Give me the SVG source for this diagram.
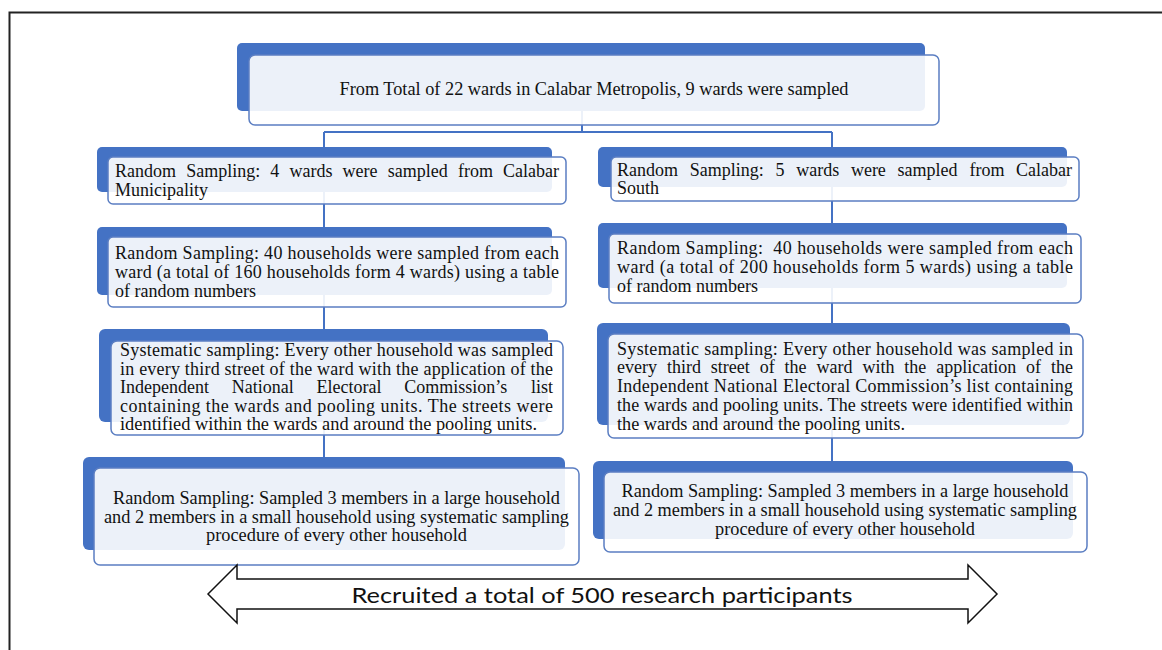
<svg xmlns="http://www.w3.org/2000/svg" width="1162" height="650" viewBox="0 0 1162 650">
<defs>
<style>
.bk{fill:#4472C4}
.fr{fill:#ffffff;fill-opacity:0.9;stroke:#5B7EC2;stroke-width:1.5}
.t{font-family:"Liberation Serif","Times New Roman",serif;font-size:18px;fill:#111}
.c{text-anchor:middle}
.cn{fill:none;stroke:#4472C4;stroke-width:2}
</style>
</defs>
<rect width="1162" height="650" fill="#ffffff"/>
<path d="M9.5,650 V12.5 H1162" fill="none" stroke="#222" stroke-width="2"/>

<g id="connectors">
<path class="cn" d="M582,100 V132 M324,132 H832 M324,132 V520 M832,132 V510"/>
</g>

<g id="n-top">
<rect class="bk" x="237" y="43" width="688" height="68" rx="5"/>
<rect class="fr" x="249" y="55" width="690" height="70" rx="6"/>
<text class="t c" x="594" y="95" textLength="509" lengthAdjust="spacingAndGlyphs">From Total of 22 wards in Calabar Metropolis, 9 wards were sampled</text>
</g>

<g id="n-l1">
<rect class="bk" x="97" y="147" width="455" height="45" rx="5"/>
<rect class="fr" x="108" y="157" width="458" height="47" rx="5"/>
<text class="t" y="177"><tspan x="115">Random</tspan> <tspan x="186.2">Sampling:</tspan> <tspan x="270.3">4</tspan> <tspan x="289.5">wards</tspan> <tspan x="342.6">were</tspan> <tspan x="387.8">sampled</tspan> <tspan x="458">from</tspan> <tspan x="503.1">Calabar</tspan></text>
<text class="t" x="115" y="196">Municipality</text>
</g>

<g id="n-l2">
<rect class="bk" x="97" y="227" width="455" height="68" rx="5"/>
<rect class="fr" x="108" y="237" width="458" height="70" rx="5"/>
<text class="t" x="115" y="259" textLength="444" lengthAdjust="spacing">Random Sampling: 40 households were sampled from each</text>
<text class="t" x="115" y="278" textLength="444" lengthAdjust="spacing">ward (a total of 160 households form 4 wards) using a table</text>
<text class="t" x="115" y="297">of random numbers</text>
</g>

<g id="n-l3">
<rect class="bk" x="99" y="329" width="449" height="93" rx="6"/>
<rect class="fr" x="111" y="341" width="452" height="94" rx="6"/>
<text class="t" x="120" y="356" textLength="433" lengthAdjust="spacing">Systematic sampling: Every other household was sampled</text>
<text class="t" x="120" y="374.5" textLength="433" lengthAdjust="spacing">in every third street of the ward with the application of the</text>
<text class="t" y="393"><tspan x="120">Independent</tspan> <tspan x="231.8">National</tspan> <tspan x="316.5">Electoral</tspan> <tspan x="404.3">Commission’s</tspan> <tspan x="531">list</tspan></text>
<text class="t" x="120" y="411.5" textLength="433" lengthAdjust="spacing">containing the wards and pooling units. The streets were</text>
<text class="t" x="120" y="430" textLength="417" lengthAdjust="spacingAndGlyphs">identified within the wards and around the pooling units.</text>
</g>

<g id="n-l4">
<rect class="bk" x="83" y="457" width="482" height="93" rx="6"/>
<rect class="fr" x="94" y="468" width="485" height="97" rx="6"/>
<text class="t c" x="336.5" y="504" textLength="447" lengthAdjust="spacingAndGlyphs">Random Sampling: Sampled 3 members in a large household</text>
<text class="t c" x="336.5" y="523" textLength="465" lengthAdjust="spacingAndGlyphs">and 2 members in a small household using systematic sampling</text>
<text class="t c" x="336.5" y="541" textLength="261" lengthAdjust="spacingAndGlyphs">procedure of every other household</text>
</g>

<g id="n-r1">
<rect class="bk" x="598" y="147" width="469" height="40" rx="5"/>
<rect class="fr" x="611" y="157" width="468" height="44" rx="5"/>
<text class="t" y="176"><tspan x="617">Random</tspan> <tspan x="689.7">Sampling:</tspan> <tspan x="775.5">5</tspan> <tspan x="796.2">wards</tspan> <tspan x="850.9">were</tspan> <tspan x="897.6">sampled</tspan> <tspan x="969.4">from</tspan> <tspan x="1016.1">Calabar</tspan></text>
<text class="t" x="617" y="194">South</text>
</g>

<g id="n-r2">
<rect class="bk" x="598" y="223" width="469" height="65" rx="5"/>
<rect class="fr" x="609" y="234" width="472" height="69" rx="5"/>
<text class="t" x="617" y="254" textLength="456" lengthAdjust="spacing" style="white-space:pre">Random Sampling:  40 households were sampled from each</text>
<text class="t" x="617" y="273" textLength="456" lengthAdjust="spacing">ward (a total of 200 households form 5 wards) using a table</text>
<text class="t" x="617" y="292">of random numbers</text>
</g>

<g id="n-r3">
<rect class="bk" x="597" y="323" width="473" height="102" rx="6"/>
<rect class="fr" x="608" y="334" width="475" height="104" rx="6"/>
<text class="t" x="617" y="355" textLength="456" lengthAdjust="spacing">Systematic sampling: Every other household was sampled in</text>
<text class="t" y="373"><tspan x="617">every</tspan> <tspan x="666.9">third</tspan> <tspan x="710.8">street</tspan> <tspan x="759.7">of</tspan> <tspan x="784.6">the</tspan> <tspan x="816.5">ward</tspan> <tspan x="862.4">with</tspan> <tspan x="904.3">the</tspan> <tspan x="936.2">application</tspan> <tspan x="1026.1">of</tspan> <tspan x="1051">the</tspan></text>
<text class="t" x="617" y="392" textLength="456" lengthAdjust="spacing">Independent National Electoral Commission’s list containing</text>
<text class="t" x="617" y="411" textLength="456" lengthAdjust="spacing">the wards and pooling units. The streets were identified within</text>
<text class="t" x="617" y="430" textLength="288" lengthAdjust="spacingAndGlyphs">the wards and around the pooling units.</text>
</g>

<g id="n-r4">
<rect class="bk" x="593" y="461" width="480" height="78" rx="6"/>
<rect class="fr" x="604" y="472" width="483" height="80" rx="6"/>
<text class="t c" x="845" y="497" textLength="447" lengthAdjust="spacingAndGlyphs">Random Sampling: Sampled 3 members in a large household</text>
<text class="t c" x="845" y="516" textLength="464" lengthAdjust="spacingAndGlyphs">and 2 members in a small household using systematic sampling</text>
<text class="t c" x="845" y="535" textLength="260" lengthAdjust="spacingAndGlyphs">procedure of every other household</text>
</g>

<g id="n-arrow">
<polygon points="208,594 237,565 237,579 968,579 968,565 997,594 968,623 968,609 237,609 237,623" fill="#ffffff" stroke="#111" stroke-width="1.5" stroke-linejoin="miter"/>
<text x="602" y="603" text-anchor="middle" textLength="501" lengthAdjust="spacingAndGlyphs" style="font-family:Lato,'Open Sans',sans-serif;font-size:22px;fill:#111">Recruited a total of 500 research participants</text>
</g>
</svg>
